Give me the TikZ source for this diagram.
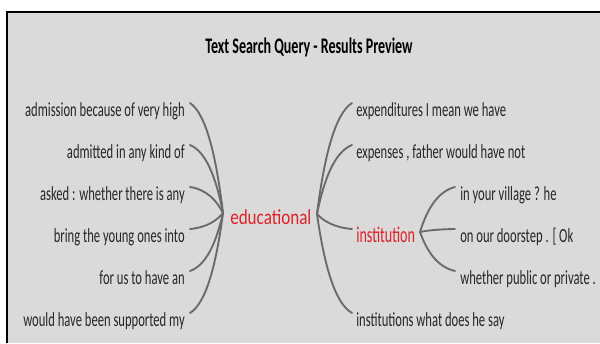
\documentclass[tikz,border=0pt]{standalone}
\usepackage{fontspec}
\setmainfont{Carlito}
\newfontfamily\nf[FakeStretch=0.63]{Carlito}
\newfontfamily\wf[FakeStretch=0.8]{Carlito}
\usetikzlibrary{calc}
\definecolor{bg}{HTML}{DADADA}
\definecolor{ln}{HTML}{6A6A6A}
\definecolor{tx}{HTML}{262626}
\definecolor{rd}{HTML}{E0202A}
\tikzset{
  leaf/.style={font=\nf\fontsize{15}{17}\selectfont, text=tx, inner sep=0pt},
  hubtxt/.style={font=\wf\fontsize{16}{18}\selectfont, text=rd, inner sep=0pt},
  subhub/.style={font=\nf\fontsize{16.8}{19}\selectfont, text=rd, inner sep=0pt},
  ttl/.style={font=\nf\bfseries\fontsize{16.7}{19}\selectfont, text=black, inner sep=0pt},
  conn/.style={draw=ln, line width=1.4pt, line cap=round}
}
\newcommand\mmlink[2]{\draw[conn] let \p1=(#1), \p2=(#2) in (\p1) .. controls ({\x1+0.2*(\x2-\x1)},{\y1+0.5*(\y2-\y1)}) and ({\x2-0.5*(\x2-\x1)},{\y2-0.1*(\y2-\y1)}) .. (\p2);}
\begin{document}
\begin{tikzpicture}[x=0.75pt,y=-0.75pt]
\useasboundingbox (0,0) rectangle (600,343);
\fill[white] (0,0) rectangle (600,343);
\fill[bg] (7,11.5) rectangle (600,343);
\draw[black, line width=1.5pt] (7,343) -- (7,11.5) -- (600,11.5);

\node[ttl, anchor=base] (title) at (309,53) {Text Search Query - Results Preview};

% left leaves
\node[leaf, anchor=base east] (l1) at (185,116) {admission because of very high};
\node[leaf, anchor=base east] (l2) at (185,158) {admitted in any kind of};
\node[leaf, anchor=base east] (l3) at (185,200) {asked : whether there is any};
\node[leaf, anchor=base east] (l4) at (185,242) {bring the young ones into};
\node[leaf, anchor=base east] (l5) at (185,284) {for us to have an};
\node[leaf, anchor=base east] (l6) at (185,326) {would have been supported my};

% center
\node[hubtxt, anchor=base west] (edu) at (230,224) {educational};

% right leaves
\node[leaf, anchor=base west] (r1) at (356,116) {expenditures I mean we have};
\node[leaf, anchor=base west] (r2) at (356,158) {expenses , father would have not};
\node[subhub, anchor=base west] (inst) at (356,242) {institution};
\node[leaf, anchor=base west] (r6) at (356,326) {institutions what does he say};

\node[leaf, anchor=base west] (s1) at (460,200) {in your village ? he};
\node[leaf, anchor=base west] (s2) at (460,242) {on our doorstep . [ Ok};
\node[leaf, anchor=base west] (s3) at (460,284) {whether public or private .};

% connection points
\coordinate (hL) at (223,213);
\coordinate (hR) at (317,214);
\coordinate (hI) at (420,232);
\coordinate (eL1) at (190,103);
\coordinate (eL2) at (190,145);
\coordinate (eL3) at (190,187);
\coordinate (eL4) at (190,229);
\coordinate (eL5) at (190,271);
\coordinate (eL6) at (190,313);
\coordinate (eR1) at (352,103);
\coordinate (eR2) at (352,145);
\coordinate (eRI) at (352,229);
\coordinate (eR6) at (352,313);
\coordinate (eS1) at (455,187);
\coordinate (eS2) at (455,229);
\coordinate (eS3) at (455,271);

\mmlink{hL}{eL1}
\mmlink{hL}{eL2}
\mmlink{hL}{eL3}
\mmlink{hL}{eL4}
\mmlink{hL}{eL5}
\mmlink{hL}{eL6}
\mmlink{hR}{eR1}
\mmlink{hR}{eR2}
\mmlink{hR}{eRI}
\mmlink{hR}{eR6}
\mmlink{hI}{eS1}
\mmlink{hI}{eS2}
\mmlink{hI}{eS3}
\end{tikzpicture}
\end{document}
